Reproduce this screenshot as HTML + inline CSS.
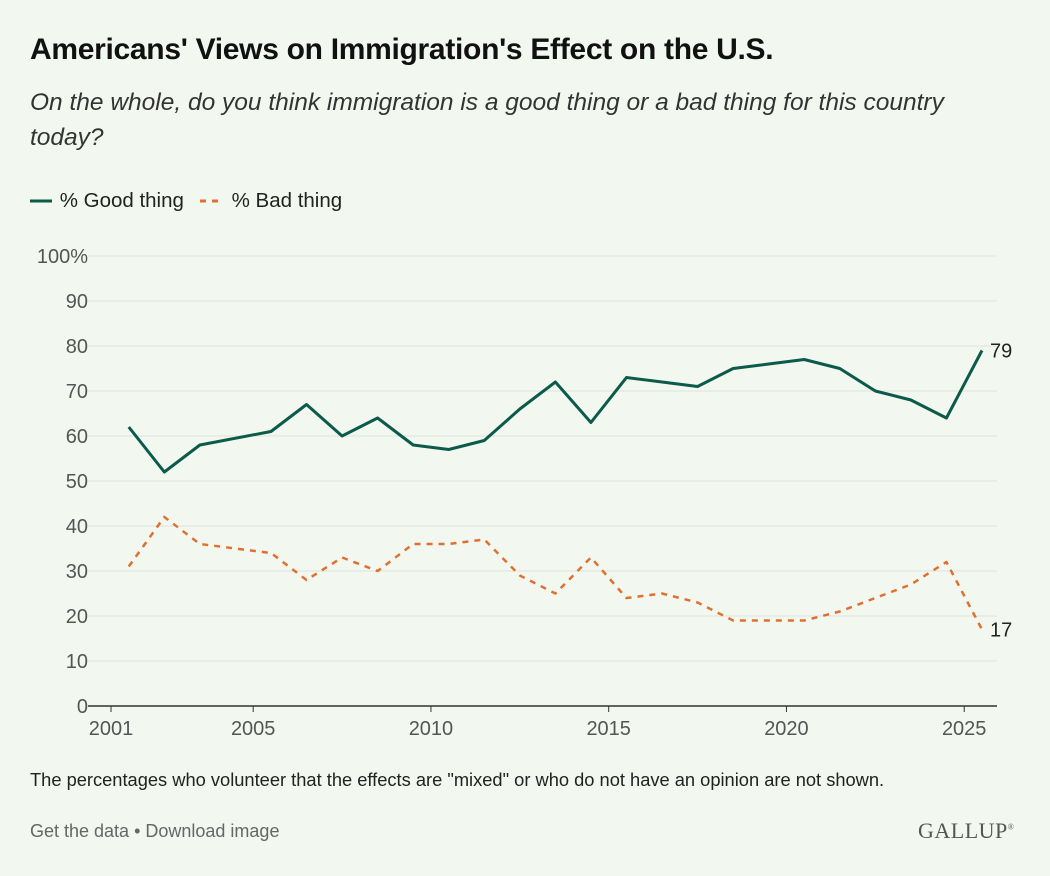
<!DOCTYPE html>
<html><head><meta charset="utf-8"><style>
body{margin:0;background:#f2f7f0;font-family:"Liberation Sans",sans-serif;}
#wrap{position:relative;width:1050px;height:876px;overflow:hidden;background:#f2f7f0;}
.t{position:absolute;margin:0;}
</style></head><body>
<div id="wrap">
<h1 class="t" style="left:30px;top:33px;font-size:30px;font-weight:bold;color:#111;letter-spacing:-0.3px">Americans' Views on Immigration's Effect on the U.S.</h1>
<p class="t" style="left:30px;top:85px;width:960px;font-size:24.5px;font-style:italic;color:#333;line-height:35px">On the whole, do you think immigration is a good thing or a bad thing for this country today?</p>
<div class="t" style="left:30px;top:189px;font-size:20.5px;color:#222;display:flex;align-items:center">
<span style="display:flex;align-items:center"><svg width="24" height="10"><line x1="0" y1="5" x2="22" y2="5" stroke="#0b5a4a" stroke-width="3"/></svg>&nbsp;% Good thing</span>
<span style="display:flex;align-items:center;margin-left:16px"><svg width="26" height="10"><line x1="0" y1="5" x2="24" y2="5" stroke="#e07030" stroke-width="3" stroke-dasharray="6,6"/></svg>&nbsp;% Bad thing</span>
</div>
<svg id="chart" width="1050" height="876" style="position:absolute;left:0;top:0"></svg>
<p class="t" style="left:30px;top:769px;font-size:18.3px;color:#222">The percentages who volunteer that the effects are "mixed" or who do not have an opinion are not shown.</p>
<p class="t" style="left:30px;top:821px;font-size:18px;color:#666">Get the data • Download image</p>
<p class="t" style="left:918px;top:818px;font-size:22px;font-family:'Liberation Serif',serif;color:#555;letter-spacing:0.5px">GALLUP<sup style="font-size:8px">®</sup></p>
</div>
<script>
const years=[2001.5,2002.5,2003.5,2005.5,2006.5,2007.5,2008.5,2009.5,2010.5,2011.5,2012.5,2013.5,2014.5,2015.5,2016.5,2017.5,2018.5,2019.5,2020.5,2021.5,2022.5,2023.5,2024.5,2025.5];
const goodVals=[62,52,58,61,67,60,64,58,57,59,66,72,63,73,72,71,75,76,77,75,70,68,64,79];
const badVals=[31,42,36,34,28,33,30,36,36,37,29,25,33,24,25,23,19,19,19,21,24,27,32,17];
const yTicks=[0,10,20,30,40,50,60,70,80,90,100];
const xTicks=[2001,2005,2010,2015,2020,2025];
const NS="http://www.w3.org/2000/svg";
const svg=document.getElementById('chart');
const x=v=>111+(v-2001)*35.55;
const y=v=>706-v*4.5;
function mk(tag,attrs,txt){const e=document.createElementNS(NS,tag);for(const k in attrs)e.setAttribute(k,attrs[k]);if(txt!=null)e.textContent=txt;svg.appendChild(e);return e;}
yTicks.forEach(t=>{
  const g=mk('line',{x1:88,x2:997,y1:y(t),y2:y(t),stroke:t===0?'#333':'#dde3dc','stroke-width':t===0?1.5:1});
  
  
  const l=mk('text',{x:88,y:y(t)+7,'text-anchor':'end','font-size':20,fill:'#555','font-family':'Liberation Sans'},t===100?'100%':t);
  
  
});
xTicks.forEach(t=>{
  const k=mk('line',{x1:x(t),x2:x(t),y1:706,y2:712,stroke:'#333'});
  
  
  const l=mk('text',{x:x(t),y:735,'text-anchor':'middle','font-size':20,fill:'#555','font-family':'Liberation Sans'},t);
  
  
});
function series(vals,color,dash,name){
  const d=vals.map((v,i)=>(i?'L':'M')+x(years[i])+','+y(v)).join(' ');
  const p=mk('path',{d:d,fill:'none',stroke:color,'stroke-width':dash?2.5:3,'stroke-dasharray':dash||'none','stroke-linejoin':'round'});
  
  
  const n=vals.length-1;
  const l=mk('text',{x:x(years[n])+8,y:y(vals[n])+7,'font-size':20,fill:'#222','font-family':'Liberation Sans'},vals[n]);
  
  
}
series(goodVals,'#0b5a4a',null,'good-thing-line');
series(badVals,'#e07030','6,6','bad-thing-line');
</script>
</body></html>
